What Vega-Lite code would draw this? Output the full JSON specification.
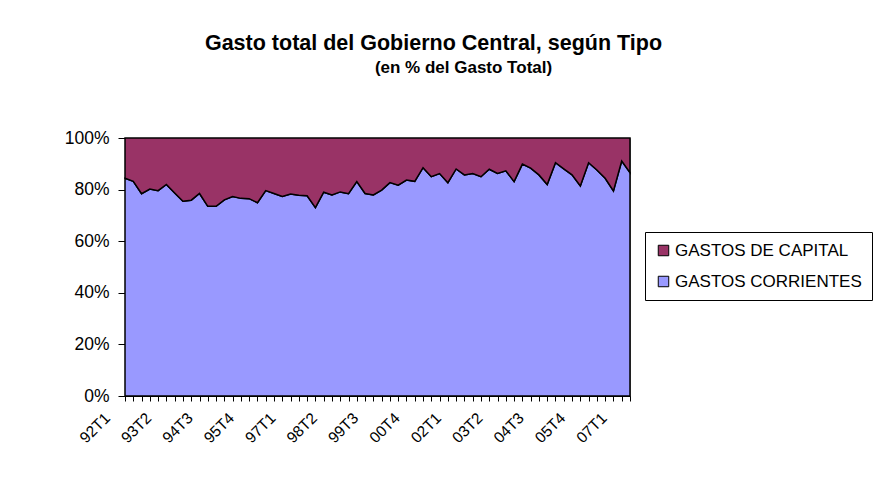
{
  "$schema": "https://vega.github.io/schema/vega-lite/v6.json",
  "autosize": {"type": "none"},
  "width": 505,
  "height": 258,
  "padding": {"left": 125, "top": 138, "right": 255, "bottom": 81},
  "background": "white",
  "config": {
    "font": "Liberation Sans",
    "view": {"stroke": "#808080", "strokeWidth": 1}
  },
  "title": {
    "text": "Gasto total del Gobierno Central, según Tipo",
    "subtitle": "\u2800\u2800\u2800\u2800\u2800(en % del Gasto Total)",
    "anchor": "middle",
    "dx": 56,
    "offset": 53,
    "fontSize": 21.5,
    "fontWeight": "bold",
    "color": "black",
    "subtitleFontSize": 17,
    "subtitleFontWeight": "bold",
    "subtitleColor": "black",
    "subtitlePadding": 6
  },
  "data": {
    "values": [
      {"t": "92T1", "tipo": "GASTOS CORRIENTES", "v": 84.4}, {"t": "92T1", "tipo": "GASTOS DE CAPITAL", "v": 15.6},
      {"t": "92T2", "tipo": "GASTOS CORRIENTES", "v": 83.2}, {"t": "92T2", "tipo": "GASTOS DE CAPITAL", "v": 16.8},
      {"t": "92T3", "tipo": "GASTOS CORRIENTES", "v": 78.4}, {"t": "92T3", "tipo": "GASTOS DE CAPITAL", "v": 21.6},
      {"t": "92T4", "tipo": "GASTOS CORRIENTES", "v": 80.2}, {"t": "92T4", "tipo": "GASTOS DE CAPITAL", "v": 19.8},
      {"t": "93T1", "tipo": "GASTOS CORRIENTES", "v": 79.6}, {"t": "93T1", "tipo": "GASTOS DE CAPITAL", "v": 20.4},
      {"t": "93T2", "tipo": "GASTOS CORRIENTES", "v": 82.0}, {"t": "93T2", "tipo": "GASTOS DE CAPITAL", "v": 18.0},
      {"t": "93T3", "tipo": "GASTOS CORRIENTES", "v": 78.7}, {"t": "93T3", "tipo": "GASTOS DE CAPITAL", "v": 21.3},
      {"t": "93T4", "tipo": "GASTOS CORRIENTES", "v": 75.5}, {"t": "93T4", "tipo": "GASTOS DE CAPITAL", "v": 24.5},
      {"t": "94T1", "tipo": "GASTOS CORRIENTES", "v": 75.9}, {"t": "94T1", "tipo": "GASTOS DE CAPITAL", "v": 24.1},
      {"t": "94T2", "tipo": "GASTOS CORRIENTES", "v": 78.5}, {"t": "94T2", "tipo": "GASTOS DE CAPITAL", "v": 21.5},
      {"t": "94T3", "tipo": "GASTOS CORRIENTES", "v": 73.5}, {"t": "94T3", "tipo": "GASTOS DE CAPITAL", "v": 26.5},
      {"t": "94T4", "tipo": "GASTOS CORRIENTES", "v": 73.5}, {"t": "94T4", "tipo": "GASTOS DE CAPITAL", "v": 26.5},
      {"t": "95T1", "tipo": "GASTOS CORRIENTES", "v": 76.0}, {"t": "95T1", "tipo": "GASTOS DE CAPITAL", "v": 24.0},
      {"t": "95T2", "tipo": "GASTOS CORRIENTES", "v": 77.3}, {"t": "95T2", "tipo": "GASTOS DE CAPITAL", "v": 22.7},
      {"t": "95T3", "tipo": "GASTOS CORRIENTES", "v": 76.6}, {"t": "95T3", "tipo": "GASTOS DE CAPITAL", "v": 23.4},
      {"t": "95T4", "tipo": "GASTOS CORRIENTES", "v": 76.5}, {"t": "95T4", "tipo": "GASTOS DE CAPITAL", "v": 23.5},
      {"t": "96T1", "tipo": "GASTOS CORRIENTES", "v": 74.9}, {"t": "96T1", "tipo": "GASTOS DE CAPITAL", "v": 25.1},
      {"t": "96T2", "tipo": "GASTOS CORRIENTES", "v": 79.6}, {"t": "96T2", "tipo": "GASTOS DE CAPITAL", "v": 20.4},
      {"t": "96T3", "tipo": "GASTOS CORRIENTES", "v": 78.5}, {"t": "96T3", "tipo": "GASTOS DE CAPITAL", "v": 21.5},
      {"t": "96T4", "tipo": "GASTOS CORRIENTES", "v": 77.3}, {"t": "96T4", "tipo": "GASTOS DE CAPITAL", "v": 22.7},
      {"t": "97T1", "tipo": "GASTOS CORRIENTES", "v": 78.3}, {"t": "97T1", "tipo": "GASTOS DE CAPITAL", "v": 21.7},
      {"t": "97T2", "tipo": "GASTOS CORRIENTES", "v": 77.8}, {"t": "97T2", "tipo": "GASTOS DE CAPITAL", "v": 22.2},
      {"t": "97T3", "tipo": "GASTOS CORRIENTES", "v": 77.6}, {"t": "97T3", "tipo": "GASTOS DE CAPITAL", "v": 22.4},
      {"t": "97T4", "tipo": "GASTOS CORRIENTES", "v": 73.0}, {"t": "97T4", "tipo": "GASTOS DE CAPITAL", "v": 27.0},
      {"t": "98T1", "tipo": "GASTOS CORRIENTES", "v": 79.0}, {"t": "98T1", "tipo": "GASTOS DE CAPITAL", "v": 21.0},
      {"t": "98T2", "tipo": "GASTOS CORRIENTES", "v": 77.9}, {"t": "98T2", "tipo": "GASTOS DE CAPITAL", "v": 22.1},
      {"t": "98T3", "tipo": "GASTOS CORRIENTES", "v": 79.1}, {"t": "98T3", "tipo": "GASTOS DE CAPITAL", "v": 20.9},
      {"t": "98T4", "tipo": "GASTOS CORRIENTES", "v": 78.4}, {"t": "98T4", "tipo": "GASTOS DE CAPITAL", "v": 21.6},
      {"t": "99T1", "tipo": "GASTOS CORRIENTES", "v": 83.1}, {"t": "99T1", "tipo": "GASTOS DE CAPITAL", "v": 16.9},
      {"t": "99T2", "tipo": "GASTOS CORRIENTES", "v": 78.5}, {"t": "99T2", "tipo": "GASTOS DE CAPITAL", "v": 21.5},
      {"t": "99T3", "tipo": "GASTOS CORRIENTES", "v": 77.9}, {"t": "99T3", "tipo": "GASTOS DE CAPITAL", "v": 22.1},
      {"t": "99T4", "tipo": "GASTOS CORRIENTES", "v": 79.8}, {"t": "99T4", "tipo": "GASTOS DE CAPITAL", "v": 20.2},
      {"t": "00T1", "tipo": "GASTOS CORRIENTES", "v": 82.7}, {"t": "00T1", "tipo": "GASTOS DE CAPITAL", "v": 17.3},
      {"t": "00T2", "tipo": "GASTOS CORRIENTES", "v": 81.7}, {"t": "00T2", "tipo": "GASTOS DE CAPITAL", "v": 18.3},
      {"t": "00T3", "tipo": "GASTOS CORRIENTES", "v": 83.7}, {"t": "00T3", "tipo": "GASTOS DE CAPITAL", "v": 16.3},
      {"t": "00T4", "tipo": "GASTOS CORRIENTES", "v": 83.2}, {"t": "00T4", "tipo": "GASTOS DE CAPITAL", "v": 16.8},
      {"t": "01T1", "tipo": "GASTOS CORRIENTES", "v": 88.5}, {"t": "01T1", "tipo": "GASTOS DE CAPITAL", "v": 11.5},
      {"t": "01T2", "tipo": "GASTOS CORRIENTES", "v": 85.0}, {"t": "01T2", "tipo": "GASTOS DE CAPITAL", "v": 15.0},
      {"t": "01T3", "tipo": "GASTOS CORRIENTES", "v": 86.2}, {"t": "01T3", "tipo": "GASTOS DE CAPITAL", "v": 13.8},
      {"t": "01T4", "tipo": "GASTOS CORRIENTES", "v": 82.7}, {"t": "01T4", "tipo": "GASTOS DE CAPITAL", "v": 17.3},
      {"t": "02T1", "tipo": "GASTOS CORRIENTES", "v": 88.0}, {"t": "02T1", "tipo": "GASTOS DE CAPITAL", "v": 12.0},
      {"t": "02T2", "tipo": "GASTOS CORRIENTES", "v": 85.7}, {"t": "02T2", "tipo": "GASTOS DE CAPITAL", "v": 14.3},
      {"t": "02T3", "tipo": "GASTOS CORRIENTES", "v": 86.2}, {"t": "02T3", "tipo": "GASTOS DE CAPITAL", "v": 13.8},
      {"t": "02T4", "tipo": "GASTOS CORRIENTES", "v": 85.0}, {"t": "02T4", "tipo": "GASTOS DE CAPITAL", "v": 15.0},
      {"t": "03T1", "tipo": "GASTOS CORRIENTES", "v": 87.9}, {"t": "03T1", "tipo": "GASTOS DE CAPITAL", "v": 12.1},
      {"t": "03T2", "tipo": "GASTOS CORRIENTES", "v": 86.3}, {"t": "03T2", "tipo": "GASTOS DE CAPITAL", "v": 13.7},
      {"t": "03T3", "tipo": "GASTOS CORRIENTES", "v": 87.3}, {"t": "03T3", "tipo": "GASTOS DE CAPITAL", "v": 12.7},
      {"t": "03T4", "tipo": "GASTOS CORRIENTES", "v": 83.1}, {"t": "03T4", "tipo": "GASTOS DE CAPITAL", "v": 16.9},
      {"t": "04T1", "tipo": "GASTOS CORRIENTES", "v": 89.9}, {"t": "04T1", "tipo": "GASTOS DE CAPITAL", "v": 10.1},
      {"t": "04T2", "tipo": "GASTOS CORRIENTES", "v": 88.3}, {"t": "04T2", "tipo": "GASTOS DE CAPITAL", "v": 11.7},
      {"t": "04T3", "tipo": "GASTOS CORRIENTES", "v": 85.7}, {"t": "04T3", "tipo": "GASTOS DE CAPITAL", "v": 14.3},
      {"t": "04T4", "tipo": "GASTOS CORRIENTES", "v": 82.0}, {"t": "04T4", "tipo": "GASTOS DE CAPITAL", "v": 18.0},
      {"t": "05T1", "tipo": "GASTOS CORRIENTES", "v": 90.4}, {"t": "05T1", "tipo": "GASTOS DE CAPITAL", "v": 9.6},
      {"t": "05T2", "tipo": "GASTOS CORRIENTES", "v": 88.0}, {"t": "05T2", "tipo": "GASTOS DE CAPITAL", "v": 12.0},
      {"t": "05T3", "tipo": "GASTOS CORRIENTES", "v": 85.7}, {"t": "05T3", "tipo": "GASTOS DE CAPITAL", "v": 14.3},
      {"t": "05T4", "tipo": "GASTOS CORRIENTES", "v": 81.4}, {"t": "05T4", "tipo": "GASTOS DE CAPITAL", "v": 18.6},
      {"t": "06T1", "tipo": "GASTOS CORRIENTES", "v": 90.4}, {"t": "06T1", "tipo": "GASTOS DE CAPITAL", "v": 9.6},
      {"t": "06T2", "tipo": "GASTOS CORRIENTES", "v": 87.6}, {"t": "06T2", "tipo": "GASTOS DE CAPITAL", "v": 12.4},
      {"t": "06T3", "tipo": "GASTOS CORRIENTES", "v": 84.4}, {"t": "06T3", "tipo": "GASTOS DE CAPITAL", "v": 15.6},
      {"t": "06T4", "tipo": "GASTOS CORRIENTES", "v": 79.5}, {"t": "06T4", "tipo": "GASTOS DE CAPITAL", "v": 20.5},
      {"t": "07T1", "tipo": "GASTOS CORRIENTES", "v": 91.1}, {"t": "07T1", "tipo": "GASTOS DE CAPITAL", "v": 8.9},
      {"t": "07T2", "tipo": "GASTOS CORRIENTES", "v": 86.6}, {"t": "07T2", "tipo": "GASTOS DE CAPITAL", "v": 13.4}
    ]
  },
  "mark": {"type": "area", "stroke": "black", "strokeWidth": 1.5, "interpolate": "linear"},
  "encoding": {
    "x": {
      "field": "t",
      "type": "ordinal",
      "sort": null,
      "scale": {"type": "point", "padding": 0},
      "axis": {
        "title": null,
        "labelAngle": -45,
        "labelAlign": "right",
        "labelBaseline": "middle",
        "labelFontSize": 15.5,
        "labelColor": "black",
        "labelPadding": 14,
        "labelOffset": -18,
        "labelExpr": "indexof(['92T1','93T2','94T3','95T4','97T1','98T2','99T3','00T4','02T1','03T2','04T3','05T4','07T1'], datum.value) >= 0 ? datum.value : ''",
        "tickSize": 5,
        "tickColor": "black",
        "domainColor": "black",
        "labelOverlap": false,
        "labelBound": false,
        "grid": false
      }
    },
    "y": {
      "field": "v",
      "type": "quantitative",
      "stack": "normalize",
      "axis": {
        "title": null,
        "values": [0, 0.2, 0.4, 0.6, 0.8, 1],
        "format": ".0%",
        "labelFontSize": 17.5,
        "labelColor": "black",
        "labelPadding": 9,
        "tickSize": 7,
        "tickColor": "black",
        "domainColor": "black",
        "grid": false
      }
    },
    "color": {
      "field": "tipo",
      "type": "nominal",
      "scale": {"domain": ["GASTOS DE CAPITAL", "GASTOS CORRIENTES"], "range": ["#993366", "#9999FF"]},
      "legend": {
        "title": null,
        "orient": "none",
        "legendX": 520,
        "legendY": 94,
        "padding": 10,
        "strokeColor": "black",
        "fillColor": "white",
        "labelFontSize": 17,
        "labelLimit": 0,
        "labelColor": "black",
        "labelOffset": 3,
        "rowPadding": 13,
        "symbolType": "square",
        "symbolSize": 110,
        "symbolStrokeColor": "black",
        "symbolStrokeWidth": 1,
        "symbolOpacity": 1
      }
    },
    "order": {"field": "tipo", "sort": "ascending"}
  }
}
